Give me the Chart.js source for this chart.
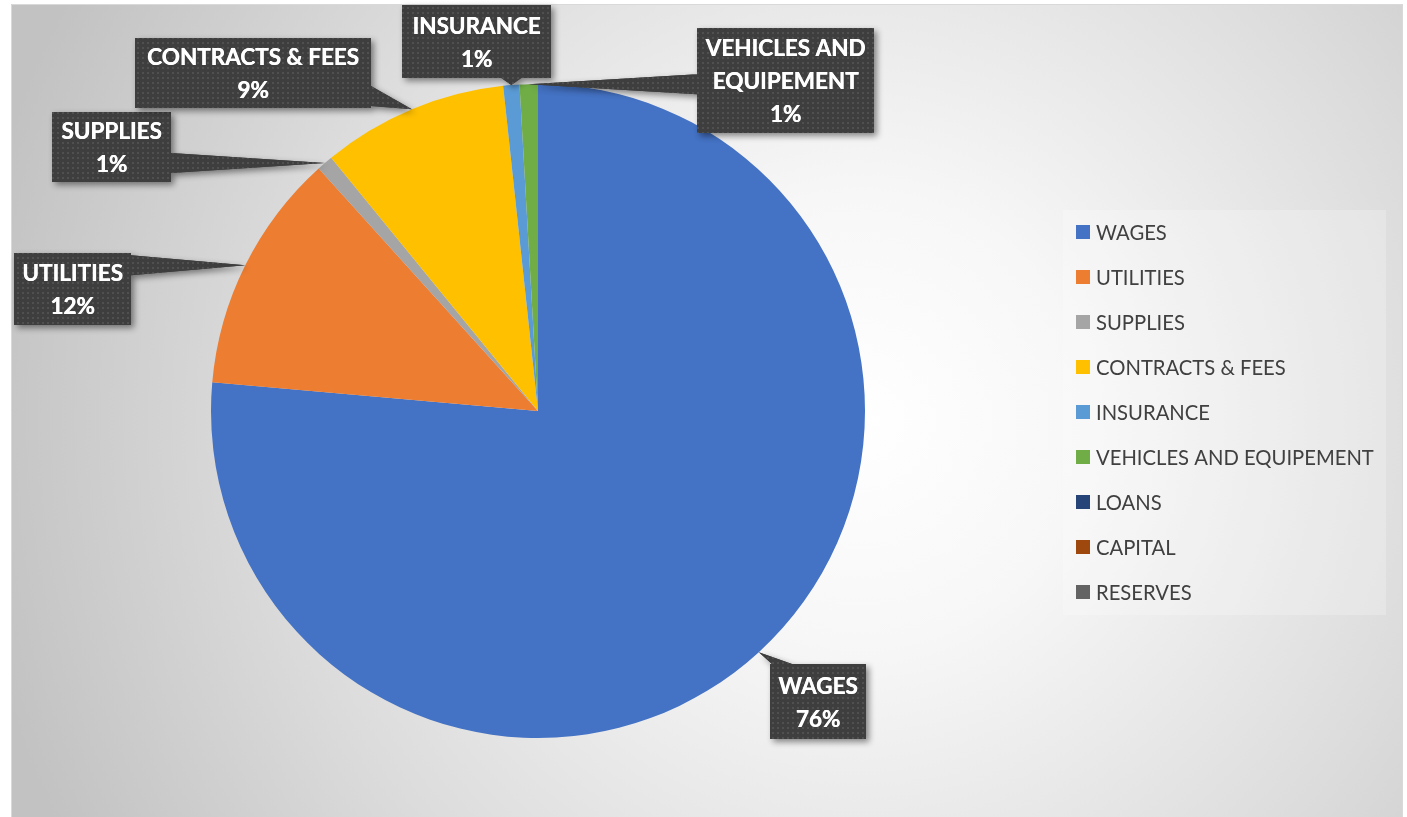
<!DOCTYPE html>
<html><head><meta charset="utf-8">
<script src="https://cdn.jsdelivr.net/npm/chart.js@4/dist/chart.umd.min.js"></script>
<style>html,body{margin:0;padding:0;background:#fff;overflow:hidden}</style>
</head><body><canvas id="c" width="1407" height="817"></canvas>
<script>
// ---- data ----
const categories = ['WAGES','UTILITIES','SUPPLIES','CONTRACTS & FEES','INSURANCE','VEHICLES AND EQUIPEMENT','LOANS','CAPITAL','RESERVES'];
const shares = [76.4, 11.9, 0.8, 9.2, 0.8, 0.9, 0, 0, 0];
const sliceColors = ['#4472C4','#ED7D31','#A5A5A5','#FFC000','#5B9BD5','#70AD47','#264478','#9E480E','#636363'];

// ---- layout (positions of callout boxes, not data) ----
const calloutBoxes = [
  {x:770, y:664, w:96,  h:75,  side:'top'},
  {x:14,  y:253, w:117, h:72,  side:'right'},
  {x:52,  y:112, w:119, h:70,  side:'right'},
  {x:135, y:38,  w:236, h:70,  side:'right'},
  {x:402, y:5,   w:149, h:73,  side:'bottom'},
  {x:697, y:28,  w:177, h:105, side:'left'}
];
const FAMILY = 'Lato, "Open Sans", sans-serif';

const canvas = document.getElementById('c');
const mctx = canvas.getContext('2d');
function fitSize(text, weight, target){
  mctx.font = weight + ' 100px ' + FAMILY;
  return 100 * target / mctx.measureText(text).width;
}
const boldSize = fitSize('CONTRACTS & FEES', 'bold', 212);
const legSize = fitSize('VEHICLES AND EQUIPEMENT', 'normal', 278);

function makePattern(ctx){
  const p = document.createElement('canvas'); p.width = 5; p.height = 5;
  const g = p.getContext('2d');
  g.fillStyle = '#3e3e3e'; g.fillRect(0,0,5,5);
  g.fillStyle = '#505050'; g.fillRect(2,2,2,2);
  return ctx.createPattern(p, 'repeat');
}

function wrapLines(ctx, text, maxW){
  const words = text.split(' '); const lines = []; let cur = '';
  for (const w of words){
    const t = cur ? cur + ' ' + w : w;
    if (ctx.measureText(t).width > maxW && cur){ lines.push(cur); cur = w; } else cur = t;
  }
  if (cur) lines.push(cur);
  return lines;
}

const bgPlugin = {
  id: 'bg',
  beforeDraw(chart){
    const ctx = chart.ctx;
    ctx.save();
    ctx.fillStyle = '#ffffff'; ctx.fillRect(0,0,chart.width,chart.height);
    const g = ctx.createRadialGradient(860, 420, 0, 860, 420, 900);
    g.addColorStop(0, '#ffffff');
    g.addColorStop(0.25, '#f7f7f7');
    g.addColorStop(0.65, '#dcdcdc');
    g.addColorStop(1, '#c2c2c2');
    ctx.fillStyle = g;
    ctx.fillRect(11, 4, 1392, 813);
    ctx.strokeStyle = '#d9d9d9'; ctx.lineWidth = 1;
    ctx.beginPath(); ctx.moveTo(11.5, 817); ctx.lineTo(11.5, 4.5); ctx.lineTo(1402.5, 4.5); ctx.lineTo(1402.5, 817); ctx.stroke();
    ctx.restore();
  }
};

const calloutPlugin = {
  id: 'callouts',
  afterDatasetsDraw(chart){
    const ctx = chart.ctx;
    const meta = chart.getDatasetMeta(0);
    const data = chart.data.datasets[0].data;
    const total = data.reduce((a,b)=>a+b,0);
    const pat = makePattern(ctx);
    ctx.save();
    ctx.font = 'bold ' + boldSize + 'px ' + FAMILY;
    data.forEach((v, i) => {
      if (!v || !calloutBoxes[i]) return;
      const arc = meta.data[i];
      const mid = (arc.startAngle + arc.endAngle) / 2;
      const tx = arc.x + Math.cos(mid) * arc.outerRadius;
      const ty = arc.y + Math.sin(mid) * arc.outerRadius;
      const b = calloutBoxes[i];
      const clamp = (val, lo, hi) => Math.max(lo, Math.min(hi, val));
      let p1, p2; const hw = 10, m = 12;
      if (b.side === 'right'){ const c = clamp(ty, b.y+m, b.y+b.h-m); p1=[b.x+b.w, c-hw]; p2=[b.x+b.w, c+hw]; }
      else if (b.side === 'left'){ const c = clamp(ty, b.y+m, b.y+b.h-m); p1=[b.x, c-hw]; p2=[b.x, c+hw]; }
      else if (b.side === 'top'){ const c = clamp(tx, b.x+m, b.x+b.w-m); p1=[c-hw, b.y]; p2=[c+hw, b.y]; }
      else { const c = clamp(tx, b.x+m, b.x+b.w-m); p1=[c-hw, b.y+b.h]; p2=[c+hw, b.y+b.h]; }
      const path = new Path2D();
      path.rect(b.x, b.y, b.w, b.h);
      path.moveTo(p1[0], p1[1]); path.lineTo(tx, ty); path.lineTo(p2[0], p2[1]); path.closePath();
      ctx.save();
      ctx.shadowColor = 'rgba(0,0,0,0.45)'; ctx.shadowBlur = 6; ctx.shadowOffsetX = 3; ctx.shadowOffsetY = 3;
      ctx.fillStyle = '#3e3e3e'; ctx.fill(path);
      ctx.restore();
      ctx.fillStyle = pat; ctx.fill(path);
      const lines = wrapLines(ctx, chart.data.labels[i], b.w - 16);
      lines.push(Math.round(v / total * 100) + '%');
      const lh = 33;
      const capH = ctx.measureText('H').actualBoundingBoxAscent;
      const cx = b.x + b.w / 2, cy = b.y + b.h / 2;
      ctx.fillStyle = '#ffffff'; ctx.textAlign = 'center'; ctx.textBaseline = 'alphabetic';
      lines.forEach((t, k) => {
        const yc = cy + (k - (lines.length - 1) / 2) * lh;
        ctx.fillText(t, cx, yc + capH / 2);
        ctx.fillText(t, cx + 0.4, yc + capH / 2);
      });
    });
    ctx.restore();
  }
};

const legendPlugin = {
  id: 'customLegend',
  afterDraw(chart){
    const ctx = chart.ctx;
    const ds = chart.data.datasets[0];
    ctx.save();
    ctx.fillStyle = 'rgba(255,255,255,0.22)';
    ctx.fillRect(1063, 210, 323, 405);
    ctx.font = legSize + 'px ' + FAMILY;
    const capH = ctx.measureText('H').actualBoundingBoxAscent;
    ctx.textAlign = 'left'; ctx.textBaseline = 'alphabetic';
    chart.data.labels.forEach((lab, i) => {
      const yc = 232 + i * 45;
      ctx.fillStyle = ds.backgroundColor[i];
      ctx.fillRect(1076, yc - 7, 14, 14);
      ctx.fillStyle = '#404040';
      ctx.fillText(lab, 1096, yc + capH / 2);
    });
    ctx.restore();
  }
};

new Chart(canvas, {
  type: 'pie',
  data: {
    labels: categories,
    datasets: [{ data: shares, backgroundColor: sliceColors, borderWidth: 0 }]
  },
  options: {
    responsive: false,
    animation: false,
    layout: { padding: { left: 211, right: 542, top: 84, bottom: 79 } },
    plugins: { legend: { display: false }, tooltip: { enabled: false } }
  },
  plugins: [bgPlugin, calloutPlugin, legendPlugin]
});
</script>
</body></html>
